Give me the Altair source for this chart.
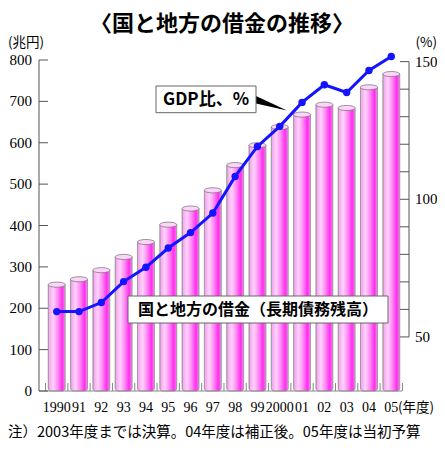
import altair as alt
import pandas as pd

# ---- data ----
years = ["1990", "91", "92", "93", "94", "95", "96", "97", "98", "99",
         "2000", "01", "02", "03", "04", "05"]
debt = [257, 270, 292, 324, 360, 402, 441, 485, 546, 594, 638, 668, 692, 684, 734, 766]
gdp_ratio = [59.2, 59.2, 62.5, 70.1, 75.3, 82.3, 87.9, 95.0, 108.3, 119.2,
             126.5, 135.2, 141.6, 138.8, 146.8, 151.9]
left_ticks = [0, 100, 200, 300, 400, 500, 600, 700, 800]
right_minor = [50, 60, 70, 80, 90, 100, 110, 120, 130, 140, 150]
right_labels = [50, 100, 150]

title_text = "〈国と地方の借金の推移〉"
left_unit = "(兆円)"
right_unit = "(%)"
year_unit = "(年度)"
gdp_label = "GDP比、%"
debt_label = "国と地方の借金（長期債務残高）"
note_text = "注）2003年度までは決算。04年度は補正後。05年度は当初予算"

W, H = 370, 331
LEFT_DOM = [0, 800]
RIGHT_DOM = [30.36, 150.6]
JP = "Noto Sans CJK JP"
NUM = "Liberation Serif"

df = pd.DataFrame({"year": years, "debt": debt, "gdp": gdp_ratio})
last_edge = pd.DataFrame({"year": [years[-1]]})
lt = pd.DataFrame({"v": left_ticks})
rt = pd.DataFrame({"v": right_minor})
rl = pd.DataFrame({"v": right_labels})
ldom = pd.DataFrame({"lo": [left_ticks[0]], "hi": [left_ticks[-1]]})
rdom = pd.DataFrame({"lo": [right_minor[0]], "hi": [right_minor[-1]]})
one = pd.DataFrame({"k": [0]})

xscale = alt.Scale(paddingInner=0.24, paddingOuter=0.415)
lscale = alt.Scale(domain=LEFT_DOM, nice=False, zero=False)
rscale = alt.Scale(domain=RIGHT_DOM, nice=False, zero=False)


def X(**kw):
    return alt.X("year:N", sort=years, scale=xscale, axis=None, **kw)


def YL(f):
    return alt.Y(f, scale=lscale, axis=None)


def YR(f):
    return alt.Y(f, scale=rscale, axis=None)


grad = alt.Gradient(
    gradient="linear", x1=0, x2=1, y1=0, y2=0,
    stops=[alt.GradientStop(color="#f59cee", offset=0),
           alt.GradientStop(color="#ffd2fc", offset=0.3),
           alt.GradientStop(color="#ff8ef4", offset=0.55),
           alt.GradientStop(color="#ff2ef0", offset=0.82),
           alt.GradientStop(color="#ff5cf2", offset=0.93),
           alt.GradientStop(color="#ffd0fc", offset=1)])

# ---- left (兆円) scale layers ----
floor = alt.Chart(one).mark_rule(stroke="#888", strokeWidth=1).encode(
    x=alt.value(0), x2=alt.value(W - 7), y=alt.value(H))
bars = alt.Chart(df).mark_bar(fill=grad, stroke="#8a8a8a", strokeWidth=0.8,
                              cornerRadiusBottomLeft=3, cornerRadiusBottomRight=3).encode(
    x=X(), y=YL("debt:Q"))
ellipse = "M-1,0 A1,0.3 0 1,1 1,0 A1,0.3 0 1,1 -1,0 Z"
caps = alt.Chart(df).mark_point(shape=ellipse, size=289, filled=True, fill="#ffd4fa",
                                stroke="#7a7a7a", strokeWidth=0.8, opacity=1).encode(
    x=X(), y=YL("debt:Q"))
floor_ticks = alt.Chart(df).mark_rule(stroke="#888", strokeWidth=1, xOffset=-2.7).encode(
    x=X(bandPosition=0), y=alt.value(H - 8), y2=alt.value(H))
floor_last = alt.Chart(last_edge).mark_rule(stroke="#888", strokeWidth=1, xOffset=2.7).encode(
    x=X(bandPosition=1), y=alt.value(H - 8), y2=alt.value(H))
xlabels = alt.Chart(df).mark_text(font=NUM, fontSize=14, color="black", baseline="middle").encode(
    x=X(), y=alt.value(H + 17), text="year:N")

ldomain = alt.Chart(ldom).mark_rule(stroke="#555", strokeWidth=1).encode(
    y=YL("lo:Q"), y2="hi:Q", x=alt.value(0))
lticks = alt.Chart(lt).mark_rule(stroke="#555", strokeWidth=1).encode(
    y=YL("v:Q"), x=alt.value(0), x2=alt.value(9))
llabels = alt.Chart(lt).mark_text(font=NUM, fontSize=15, color="black", align="right",
                                  baseline="middle", dx=-7).encode(
    y=YL("v:Q"), x=alt.value(0), text="v:Q")

# ---- right (%) scale layers ----
rticks = alt.Chart(rt).mark_rule(stroke="#555", strokeWidth=1).encode(
    y=YR("v:Q"), x=alt.value(W - 9), x2=alt.value(W))
rline = alt.Chart(rdom).mark_rule(stroke="#555", strokeWidth=1).encode(
    y=YR("lo:Q"), y2="hi:Q", x=alt.value(W))
rlabels = alt.Chart(rl).mark_text(font=NUM, fontSize=15, color="black", align="left",
                                  baseline="middle", dx=6).encode(
    y=YR("v:Q"), x=alt.value(W), text="v:Q")
line = alt.Chart(df).mark_line(color="#1414ff", strokeWidth=3).encode(
    x=X(), y=YR("gdp:Q"))
dots = alt.Chart(df).mark_point(filled=True, size=55, color="#1414ff", opacity=1).encode(
    x=X(), y=YR("gdp:Q"))


# ---- annotations ----
def txt(t, x, y, size, align="center", weight="normal", font=JP):
    return alt.Chart(one).mark_text(text=t, fontSize=size, align=align, baseline="middle",
                                    font=font, fontWeight=weight, color="black").encode(
        x=alt.value(x), y=alt.value(y))


pointer = alt.Chart(one).mark_point(shape="M0,-0.24 L2,0.7 L0,0.24 Z", size=961, filled=True,
                                    color="black", opacity=1).encode(
    x=alt.value(217), y=alt.value(39.7))
gdp_box = alt.Chart(one).mark_rect(fill="white", stroke="#666", strokeWidth=1).encode(
    x=alt.value(117), x2=alt.value(217), y=alt.value(26), y2=alt.value(52.7))
debt_box = alt.Chart(one).mark_rect(fill="white", stroke="#666", strokeWidth=1).encode(
    x=alt.value(89), x2=alt.value(349), y=alt.value(236), y2=alt.value(263))

annos = [
    pointer, gdp_box, txt(gdp_label, 167, 39.5, 17, weight="bold"),
    debt_box, txt(debt_label, 219, 249.5, 16, weight="bold"),
    txt(title_text, 183, -36, 22, weight="bold"),
    txt(left_unit, -31, -17, 13.5, align="left"),
    txt(right_unit, 398, -17, 13.5, align="right"),
    txt(year_unit, 359, H + 17, 13.5, align="left"),
    txt(note_text, -31, 373, 14.5, align="left"),
]

layers = [floor, bars, floor_ticks, floor_last, caps, xlabels, ldomain, lticks, llabels,
          rticks, rline, rlabels, line, dots] + annos

chart = alt.layer(*layers).resolve_scale(y="independent").properties(
    width=W, height=H,
    autosize=alt.AutoSizeParams(type="none"),
    padding={"left": 31, "top": 52, "right": 28, "bottom": 51},
    background="white",
).configure_view(stroke=None)

chart.save("out.html", embed_options={"renderer": "svg", "actions": False})
